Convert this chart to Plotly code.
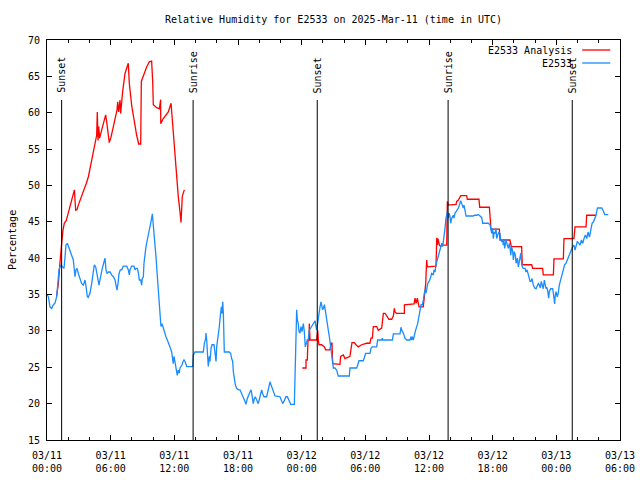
import pandas as pd
import plotly.graph_objects as go

title_text = "Relative Humidity for E2533 on 2025-Mar-11 (time in UTC)"
y_label = "Percentage"
series_names = ["E2533 Analysis", "E2533"]
series_colors = ["#ff0000", "#1a8cff"]
start_time = pd.Timestamp("2025-03-11 00:00")

x_tick_step_hours = 6
x_minor_step_hours = 2
x_span_hours = 54
x_tick_format = "%m/%d<br>%H:%M"
y_ticks = [15, 20, 25, 30, 35, 40, 45, 50, 55, 60, 65, 70]

sun_hours = [1.38, 13.77, 25.47, 37.80, 49.50]
sun_labels = ["Sunset", "Sunrise", "Sunset", "Sunrise", "Sunset"]

# E2533 Analysis (hours since 03/11 00:00 UTC, percent)
analysis_hours = [
    0.90, 1.07, 1.19, 1.32, 1.38, 1.51, 1.63, 1.82, 2.01, 2.17, 2.32, 2.48, 2.58, 2.70, 2.83,
    2.95, 3.14, 3.33, 3.52, 3.71, 3.90, 4.05, 4.21, 4.37, 4.52, 4.68, 4.74, 4.81, 4.87, 4.96,
    5.15, 5.34, 5.53, 5.62, 5.72, 5.87, 6.03, 6.22, 6.41, 6.60, 6.66, 6.75, 6.88, 6.94, 7.13,
    7.35, 7.66, 7.76, 7.98, 8.20, 8.45, 8.64, 8.83, 8.89, 9.14, 9.39, 9.64, 9.80, 9.86, 9.96,
    10.02, 10.34, 10.59, 10.71, 10.72, 10.96, 11.43, 11.69, 11.78, 11.90, 12.06, 12.22, 12.37,
    12.53, 12.63, 12.75, 12.94,
    18.00,
    24.06, 24.41, 24.41, 24.53, 24.60, 24.69, 24.72, 24.79, 25.41, 25.51, 25.57, 25.63, 25.88,
    26.14, 26.26, 26.67, 26.76, 26.86, 26.92, 27.61, 27.67, 27.93, 28.08, 28.55, 28.74, 28.96,
    29.12, 29.34, 29.65, 30.12, 30.43, 30.53, 30.66, 30.75, 31.07, 31.22, 31.54, 31.63, 31.70,
    31.86, 32.01, 32.23, 32.48, 32.64, 32.73, 32.80, 32.95, 33.68, 33.68, 34.59, 34.68, 34.78,
    34.90, 35.06, 35.46, 35.56, 35.69, 35.78, 35.84, 36.66, 36.73, 36.79, 36.85, 36.98, 37.10,
    37.20, 37.67, 37.73, 37.82, 38.55, 38.61, 38.77, 38.99, 39.55, 39.61, 40.71, 40.78, 41.69,
    41.75, 41.84, 42.63, 42.69, 43.63, 43.76, 44.73, 44.79, 45.68, 45.77, 46.71, 46.77, 47.72,
    47.78, 48.66, 48.72, 49.66, 49.76, 50.80, 50.86, 51.74]
analysis_values = [
    34.7, 36.5, 38.8, 40.4, 42.0, 43.9, 44.8, 45.2, 46.2, 47.1, 47.8, 48.9, 49.4, 46.6, 46.7,
    47.3, 48.0, 48.7, 49.4, 50.3, 51.2, 52.4, 53.3, 54.4, 55.8, 56.9, 60.1, 56.2, 58.1, 56.5,
    57.6, 58.5, 59.7, 58.8, 57.2, 55.9, 56.6, 57.9, 59.2, 60.4, 61.5, 60.1, 61.75, 59.9, 62.9,
    65.4, 66.8, 64.0, 61.0, 59.0, 56.9, 55.7, 55.7, 64.3, 65.4, 66.3, 67.0, 67.1, 67.1, 64.3,
    61.1, 60.7, 60.55, 61.8, 58.5, 59.2, 60.1, 61.3, 59.45, 56.7, 54.0, 51.2, 48.5,
    46.4, 44.9, 48.5, 49.4,
    None,
    24.9, 24.9, 26.0, 26.0, 28.75, 28.75, 31.0, 28.75, 28.75, 30.1, 28.75, 28.1, 28.1,
    27.8, 27.4, 27.4, 28.3, 28.3, 25.5, 25.4, 26.5, 26.7, 26.2, 26.5, 28.4, 28.4,
    28.1, 27.8, 28.1, 28.3, 28.3, 29.0, 29.0, 30.6, 30.6, 30.1, 30.4, 31.3, 32.4,
    32.4, 32.0, 31.6, 31.6, 32.05, 33.1, 32.6, 32.4, 32.4, 33.6, 33.7, 34.5, 33.8,
    34.5, 33.3, 33.3, 34.5, 36.5, 39.75, 38.8, 38.9, 42.8, 41.8, 42.7, 41.8, 41.6,
    41.8, 41.8, 47.8, 47.3, 47.4, 47.8, 48.0, 48.6, 48.6, 48.1, 48.1, 47.0, 47.0,
    45.5, 44.0, 44.0, 42.5, 42.5, 41.6, 41.6, 39.1, 39.1, 38.6, 38.6, 37.7, 37.7,
    39.9, 39.9, 42.7, 42.7, 44.3, 44.3, 45.9, 45.9]

# E2533 observations (hours since 03/11 00:00 UTC, percent)
obs_hours = [
    0.00, 0.13, 0.28, 0.44, 0.60, 0.75, 0.91, 1.00, 1.13, 1.23, 1.32, 1.45, 1.60, 1.70, 1.79,
    1.92, 2.01, 2.17, 2.32, 2.48, 2.58, 2.64, 2.73, 2.83, 2.95, 3.11, 3.27, 3.42, 3.58, 3.68,
    3.80, 3.89, 4.05, 4.21, 4.37, 4.46, 4.59, 4.68, 4.77, 4.90, 4.99, 5.09, 5.21, 5.34, 5.47,
    5.56, 5.65, 5.78, 5.94, 6.09, 6.25, 6.41, 6.50, 6.60, 6.69, 6.79, 6.91, 7.04, 7.19, 7.51,
    7.66, 7.76, 7.82, 7.98, 8.20, 8.29, 8.39, 8.51, 8.61, 8.70, 8.83, 8.92, 8.98, 9.08, 9.14,
    9.24, 9.33, 9.45, 9.55, 9.64, 9.77, 9.86, 9.93, 9.99, 10.08, 10.18, 10.27, 10.40, 10.52,
    10.65, 10.71, 10.74, 10.84, 10.96, 11.06, 11.21, 11.34, 11.47, 11.59, 11.75, 11.81, 11.84,
    11.90, 11.97, 12.06, 12.16, 12.28, 12.37, 12.47, 12.53, 12.63, 12.72, 12.82, 12.91, 13.01,
    13.10, 13.17, 13.73, 13.79, 13.95, 14.73, 14.83, 14.96, 14.98, 15.05, 15.14, 15.20, 15.30,
    15.36, 15.46, 15.55, 15.74, 15.83, 15.93, 15.99, 16.14, 16.24, 16.33, 16.43, 16.49, 16.56,
    16.62, 16.71, 17.18, 17.31, 17.40, 17.50, 17.56, 17.65, 17.75, 17.87, 18.03, 18.19, 18.35,
    18.50, 18.66, 18.75, 18.88, 19.07, 19.23, 19.29, 19.38, 19.44, 19.54, 19.63, 19.76, 19.91,
    20.07, 20.23, 20.32, 20.45, 20.70, 20.79, 20.89, 21.02, 21.11, 21.21, 21.33, 21.49, 21.96,
    22.11, 22.21, 22.33, 22.52, 22.65, 22.81, 22.97, 23.31, 23.37, 23.43, 23.53, 23.59, 23.68,
    23.75, 23.84, 23.94, 24.03, 24.16, 24.25, 24.34, 24.41, 24.53, 24.63, 24.72, 24.85, 24.94,
    25.10, 25.26, 25.41, 25.57, 25.63, 25.73, 25.82, 25.88, 25.98, 26.04, 26.14, 26.20, 26.29,
    26.42, 26.51, 26.61, 26.70, 26.83, 26.92, 26.99, 27.14, 27.30, 27.45, 28.49, 28.55, 29.18,
    29.28, 29.40, 29.81, 29.90, 30.03, 30.44, 30.53, 30.66, 31.07, 31.16, 31.54, 31.60, 31.63,
    32.55, 32.64, 33.27, 33.36, 33.43, 33.58, 33.74, 33.90, 34.21, 34.30, 34.36, 34.43, 34.52,
    34.61, 34.74, 34.93, 35.06, 35.15, 35.25, 35.37, 35.46, 35.56, 35.62, 35.72, 35.78, 35.88,
    36.00, 36.12, 36.25, 36.41, 36.47, 36.57, 36.66, 36.79, 36.88, 36.98, 37.10, 37.20, 37.29,
    37.41, 37.51, 37.60, 37.67, 37.73, 37.82, 37.89, 37.98, 38.04, 38.14, 38.23, 38.29, 38.36,
    38.45, 38.55, 38.67, 38.77, 38.86, 38.92, 38.99, 39.08, 39.17, 39.24, 39.30, 39.39, 39.49,
    40.18, 40.27, 40.49, 40.64, 40.81, 40.96, 41.06, 41.59, 41.75, 41.84, 41.91, 42.00, 42.06,
    42.15, 42.25, 42.31, 42.38, 42.47, 42.60, 42.69, 42.75, 42.85, 42.94, 43.00, 43.06, 43.13,
    43.26, 43.38, 43.48, 43.57, 43.63, 43.70, 43.79, 43.89, 43.95, 44.04, 44.14, 44.20, 44.33,
    44.42, 44.51, 44.65, 44.70, 44.79, 44.89, 45.05, 45.14, 45.24, 45.33, 45.42, 45.52, 45.61,
    45.71, 45.83, 45.96, 46.08, 46.21, 46.30, 46.40, 46.49, 46.58, 46.68, 46.77, 46.87, 46.96,
    47.03, 47.09, 47.18, 47.28, 47.34, 47.47, 47.65, 47.72, 47.78, 47.84, 47.90, 47.97, 48.09,
    48.18, 48.28, 48.40, 48.53, 48.66, 48.78, 48.91, 49.03, 49.16, 49.29, 49.41, 49.54, 49.66,
    49.76, 49.85, 49.98, 50.11, 50.24, 50.36, 50.49, 50.61, 50.74, 50.87, 50.99, 51.12, 51.25,
    51.37, 51.50, 51.62, 51.74, 51.87, 52.12, 52.28, 52.43, 52.56, 52.90]
obs_values = [
    35.0, 34.7, 33.3, 33.1, 33.6, 33.8, 34.7, 36.5, 38.4, 38.8, 39.1, 38.8, 38.6, 40.2, 41.8,
    42.05, 41.6, 41.1, 40.4, 39.75, 37.9, 37.45, 38.4, 38.6, 37.9, 37.2, 36.5, 36.3, 37.0, 36.1,
    34.7, 34.6, 35.2, 36.5, 38.4, 39.1, 38.8, 37.9, 37.0, 36.3, 37.0, 37.9, 38.6, 39.3, 40.0,
    38.4, 37.9, 38.1, 38.1, 37.7, 37.45, 37.0, 36.3, 35.6, 36.5, 37.9, 38.4, 38.4, 38.9, 38.9,
    38.4, 37.7, 38.4, 38.9, 38.9, 38.4, 38.6, 38.6, 38.0, 37.0, 37.0, 36.3, 37.2, 37.45, 39.3,
    40.7, 41.6, 42.5, 43.4, 44.1, 44.8, 45.5, 46.1, 45.0, 43.6, 42.05, 40.2, 37.45, 34.7,
    32.0, 31.5, 30.6, 31.0, 30.4, 29.7, 29.2, 28.75, 28.1, 27.8, 27.1, 26.0, 26.7,
    25.5, 26.5, 25.8, 25.1, 23.9, 24.6, 24.2, 24.9, 25.1, 25.3, 25.8, 26.0, 25.8,
    25.3, 25.1, 25.1, 26.7, 27.1, 27.1, 28.3, 29.0, 29.7, 28.75, 26.5, 25.1, 26.5,
    25.8, 27.6, 28.1, 28.1, 26.5, 25.8, 27.8, 29.2, 30.6, 32.0, 33.3, 32.4, 34.0,
    32.4, 27.1, 27.1, 26.9, 26.2, 25.8, 24.4, 23.25, 22.6, 22.1, 21.9, 21.9, 21.4,
    20.7, 20.3, 19.9, 20.7, 21.4, 21.9, 21.4, 20.5, 20.0, 20.7, 20.95, 20.5, 20.0,
    20.95, 21.9, 21.4, 20.95, 20.95, 21.6, 22.1, 23.0, 22.6, 22.1, 21.6, 21.05, 20.95,
    20.5, 20.0, 20.3, 20.95, 20.95, 20.5, 19.9, 19.9, 23.25, 29.7, 32.9, 31.5, 31.0,
    29.9, 29.7, 30.6, 29.9, 31.0, 29.9, 27.8, 28.1, 28.75, 28.85, 30.1, 30.4, 30.6,
    31.0, 31.4, 30.1, 32.0, 32.9, 33.3, 34.0, 33.6, 32.9, 33.1, 33.6, 33.1, 32.0,
    30.6, 30.1, 29.2, 28.1, 26.9, 25.8, 24.9, 24.9, 24.6, 23.8, 23.8, 24.9, 24.9,
    25.3, 25.9, 25.9, 26.5, 26.9, 26.9, 27.6, 27.8, 27.8, 28.75, 28.75, 29.0, 28.75,
    28.75, 29.6, 29.6, 30.5, 30.1, 29.7, 29.0, 28.75, 28.75, 29.2, 28.75, 29.2, 28.75,
    29.4, 30.1, 31.0, 32.0, 32.9, 33.6, 33.6, 34.15, 35.2, 35.6, 35.2, 35.7, 36.5,
    36.8, 37.2, 37.9, 37.7, 38.4, 38.1, 39.1, 39.75, 40.2, 40.9, 41.6, 42.05, 41.6,
    42.7, 44.1, 45.5, 46.2, 46.4, 45.5, 46.2, 45.7, 44.8, 45.5, 45.7, 45.9, 45.5,
    46.2, 46.4, 46.6, 46.9, 47.3, 47.5, 47.9, 47.5, 46.9, 46.9, 47.3, 46.4, 45.8,
    45.8, 45.9, 45.9, 46.0, 45.8, 45.6, 44.8, 44.8, 44.6, 44.1, 43.4, 44.1, 42.7,
    43.6, 43.4, 44.1, 42.7, 43.2, 43.6, 43.4, 42.5, 42.3, 42.5, 41.8, 42.5, 41.35,
    42.5, 41.8, 41.35, 42.05, 41.6, 40.4, 41.6, 40.9, 39.75, 40.9, 40.4, 39.3, 40.0,
    38.8, 39.75, 40.7, 39.75, 38.8, 38.6, 38.6, 38.1, 38.4, 37.9, 37.45, 36.8, 36.8,
    37.2, 36.3, 35.9, 35.8, 36.3, 36.5, 36.3, 35.9, 36.8, 36.3, 35.8, 37.0, 36.3,
    35.8, 36.0, 35.6, 34.5, 35.4, 35.8, 35.8, 35.2, 34.5, 33.7, 34.9, 35.4, 34.7,
    35.2, 36.3, 37.0, 37.9, 38.4, 39.1, 39.3, 39.75, 40.2, 40.7, 40.9, 41.6, 41.8,
    41.1, 41.6, 42.3, 42.05, 41.8, 42.5, 42.05, 42.7, 43.2, 42.7, 43.6, 42.9, 44.1,
    44.8, 45.0, 45.5, 45.9, 46.9, 46.9, 46.9, 46.5, 46.0, 46.0]


def to_time(hours):
    return [start_time + pd.Timedelta(hours=h) for h in hours]


FONT = "DejaVu Sans Mono"
fig = go.Figure()

fig.add_trace(go.Scatter(x=to_time(analysis_hours), y=analysis_values, mode="lines",
                         name=series_names[0], line=dict(color=series_colors[0], width=1.3),
                         connectgaps=False, showlegend=False))
fig.add_trace(go.Scatter(x=to_time(obs_hours), y=obs_values, mode="lines",
                         name=series_names[1], line=dict(color=series_colors[1], width=1.3),
                         showlegend=False))

# sunrise / sunset markers
for h, lab in zip(sun_hours, sun_labels):
    t = start_time + pd.Timedelta(hours=h)
    fig.add_shape(type="line", xref="x", yref="paper", x0=t, x1=t, y0=0, y1=0.85,
                  line=dict(color="black", width=1))
    fig.add_annotation(x=t, xref="x", y=0.862, yref="paper", text=lab, textangle=-90,
                       showarrow=False, xanchor="center", yanchor="bottom",
                       font=dict(family=FONT, size=10, color="black"))

# manual legend (text right-aligned, sample line on the right)
legend_rows = [0.975, 0.9425]
for name, col, yy in zip(series_names, series_colors, legend_rows):
    fig.add_annotation(x=0.9197, xref="paper", y=yy, yref="paper", text=name,
                       showarrow=False, xanchor="right", yanchor="middle",
                       font=dict(family=FONT, size=10, color="black"))
    fig.add_shape(type="line", xref="paper", yref="paper", x0=0.934, x1=0.983,
                  y0=yy, y1=yy, line=dict(color=col, width=1.3))

fig.add_annotation(x=-0.061, xref="paper", y=0.5, yref="paper", text=y_label,
                   textangle=-90, showarrow=False, xanchor="center", yanchor="middle",
                   font=dict(family=FONT, size=10, color="black"))

fig.update_layout(
    width=640, height=480,
    margin=dict(l=47, r=20, t=40, b=40, autoexpand=False),
    paper_bgcolor="white", plot_bgcolor="white",
    title=dict(text=title_text, x=0.5, xref="paper", y=1 - 19 / 480, yref="container",
               xanchor="center", yanchor="middle",
               font=dict(family=FONT, size=10, color="black")),
    font=dict(family=FONT, size=10, color="black"),
)

fig.update_xaxes(
    range=[start_time, start_time + pd.Timedelta(hours=x_span_hours)],
    tickmode="linear", tick0=start_time, dtick=x_tick_step_hours * 3600 * 1000,
    tickformat=x_tick_format,
    ticks="inside", ticklen=5, tickcolor="black", tickwidth=1,
    showline=True, linecolor="black", linewidth=1, mirror="allticks",
    showgrid=False, zeroline=False, ticklabelstandoff=6, automargin=False,
    minor=dict(tickmode="linear", tick0=start_time, dtick=x_minor_step_hours * 3600 * 1000,
               ticks="inside", ticklen=3, tickcolor="black", tickwidth=1, showgrid=False),
    tickfont=dict(family=FONT, size=10, color="black"),
)
fig.update_yaxes(
    range=[15, 70], tickmode="array", tickvals=y_ticks,
    ticks="inside", ticklen=5, tickcolor="black", tickwidth=1,
    showline=True, linecolor="black", linewidth=1, mirror="allticks",
    showgrid=False, zeroline=False, ticklabelstandoff=4, automargin=False,
    tickfont=dict(family=FONT, size=10, color="black"),
)

fig.write_html(
    "out.html",
    config={"displayModeBar": False},
    post_script="document.body.style.margin='0';document.body.style.overflow='hidden';",
)
